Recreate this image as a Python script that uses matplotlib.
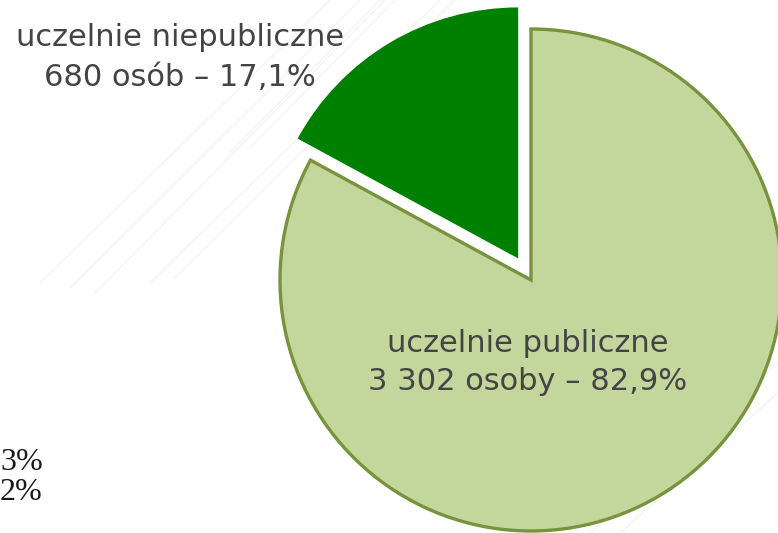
import matplotlib.pyplot as plt

# osoby wg typu uczelni
kategorie = ['uczelnie niepubliczne', 'uczelnie publiczne']
liczba_osob = [680, 3302]
procent = ['17,1%', '82,9%']
opis_osob = ['680 osób', '3 302 osoby']

kolory = ['#008000', '#C3D69B']
krawedzie = ['#008000', '#77933C']

W, H = 778, 533
fig = plt.figure(figsize=(W / 100, H / 100), dpi=100)
ax = fig.add_axes([0, 0, 1, 1])

# delikatne ukośne smugi w tle
smugi = [(40, 250, 330, 533), (70, 245, 360, 533), (95, 240, 385, 533),
         (150, 250, 440, 533), (175, 255, 455, 533),
         (560, 0, 778, 200), (590, 0, 778, 170), (620, 0, 778, 140),
         (500, 0, 778, 260), (230, 380, 380, 533), (250, 385, 395, 533)]
for x0, y0, x1, y1 in smugi:
    ax.plot([x0, x1], [y0, y1], color='#B4B4B4', lw=1.2, alpha=0.12,
            solid_capstyle='butt', zorder=0)

R = 251
srodek = (531, H - 280)
wedges, _ = ax.pie(liczba_osob, colors=kolory, startangle=90, counterclock=True,
                   radius=R, center=srodek, explode=[0.1 * R, 0],
                   wedgeprops=dict(linewidth=2.4))
for w, ec in zip(wedges, krawedzie):
    w.set_edgecolor(ec)
wedges[0].set_linewidth(0)

ax.set_xlim(0, W)
ax.set_ylim(0, H)
ax.set_aspect('equal')
ax.axis('off')

font = dict(family='DejaVu Sans', color='#444444', fontsize=22, ha='center', va='center')
ax.text(180, H - 38, kategorie[0], **font)
ax.text(180, H - 77, f'{opis_osob[0]} – {procent[0]}', **font)
ax.text(528, H - 343, kategorie[1], **font)
ax.text(528, H - 382, f'{opis_osob[1]} – {procent[1]}', **font)

# fragmenty etykiet z sąsiedniego wykresu
serif = dict(family='Liberation Serif', color='#1A1A1A', fontsize=23, ha='left', va='center')
ax.text(0, H - 462, '3%', **serif)
ax.text(0, H - 493, '2%', **serif)

fig.savefig('out.png', dpi=100)
